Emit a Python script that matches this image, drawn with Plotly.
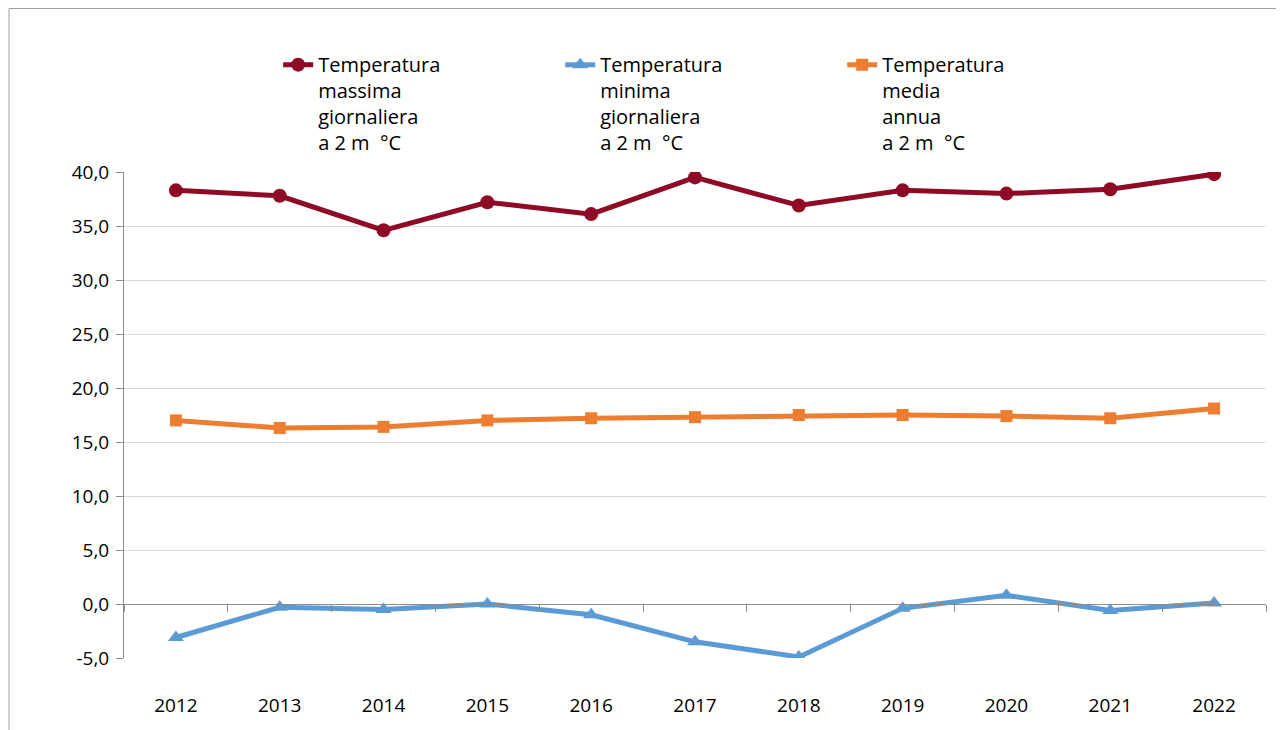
import plotly.graph_objects as go

years = ["2012", "2013", "2014", "2015", "2016", "2017", "2018", "2019", "2020", "2021", "2022"]
t_max = [38.3, 37.8, 34.6, 37.2, 36.1, 39.5, 36.9, 38.3, 38.0, 38.4, 39.8]
t_min = [-3.1, -0.3, -0.5, 0.0, -1.0, -3.5, -4.9, -0.4, 0.8, -0.6, 0.1]
t_media = [17.0, 16.3, 16.4, 17.0, 17.2, 17.3, 17.5, 17.5, 17.4, 17.2, 18.1]

y_tickvals = [-5, 0, 5, 10, 15, 20, 25, 30, 35, 40]
y_ticktext = ["-5,0", "0,0", "5,0", "10,0", "15,0", "20,0", "25,0", "30,0", "35,0", "40,0"]

names = [
    "Temperatura<br>massima<br>giornaliera<br>a 2 m  °C",
    "Temperatura<br>minima<br>giornaliera<br>a 2 m  °C",
    "Temperatura<br>media<br>annua<br>a 2 m  °C",
]
colors = ["#8E0A25", "#5B9BD5", "#ED7D31"]
symbols = ["circle", "triangle-up", "square"]
sizes = [14, 14, 12]

FONT = "Open Sans"
fig = go.Figure()
for vals, nm, c, s, sz in zip([t_max, t_min, t_media], names, colors, symbols, sizes):
    fig.add_trace(go.Scatter(
        x=years, y=vals, name=nm, mode="lines+markers",
        line=dict(color=c, width=5),
        marker=dict(symbol=s, size=sz, color=c),
        xaxis="x", yaxis="y",
    ))

# dummy trace on secondary x axis to show the category axis at y=0
fig.add_trace(go.Scatter(x=years, y=[None] * len(years), xaxis="x2", yaxis="y",
                         showlegend=False, hoverinfo="skip"))

ymin, ymax = -5, 40
fig.update_layout(
    width=1276, height=722,
    margin=dict(l=116, r=18, t=164, b=72),
    paper_bgcolor="white", plot_bgcolor="white",
    separators=",.",
    font=dict(family=FONT, size=19, color="#000000"),
    showlegend=True,
    legend=dict(
        orientation="h", x=0.135, y=1.261, xanchor="left", yanchor="top",
        entrywidth=237, valign="top",
        font=dict(family=FONT, size=20, color="#000000"),
        bgcolor="rgba(0,0,0,0)", itemclick=False,
    ),
    xaxis=dict(
        type="category", showline=False, showgrid=False, ticks="",
        tickfont=dict(family=FONT, size=19), ticklabelstandoff=34,
        range=[-0.5, 10.5], zeroline=False,
    ),
    xaxis2=dict(
        type="category", overlaying="x", anchor="free",
        position=(0 - ymin) / (ymax - ymin), side="bottom",
        showline=True, linecolor="#8c8c8c", linewidth=1,
        ticks="outside", ticklen=7, tickcolor="#8c8c8c", tickson="boundaries",
        showticklabels=False, showgrid=False, range=[-0.5, 10.5], zeroline=False,
    ),
    yaxis=dict(
        range=[ymin, ymax], tickmode="array",
        tickvals=y_tickvals, ticktext=y_ticktext,
        showline=True, linecolor="#8c8c8c", linewidth=1,
        ticks="outside", ticklen=7, tickcolor="#8c8c8c",
        showgrid=True, gridcolor="#d9d9d9", gridwidth=1,
        zeroline=False, ticklabelstandoff=3,
        tickfont=dict(family=FONT, size=19),
    ),
    shapes=[dict(
        type="rect", xref="paper", yref="paper",
        x0=(1 - 116) / 1142, x1=1.2, y0=-0.3, y1=(650 - 0.5) / 486,
        line=dict(color="#a0a0a0", width=1), fillcolor="rgba(0,0,0,0)", layer="below",
    )],
)

fig.write_html("out.html")
